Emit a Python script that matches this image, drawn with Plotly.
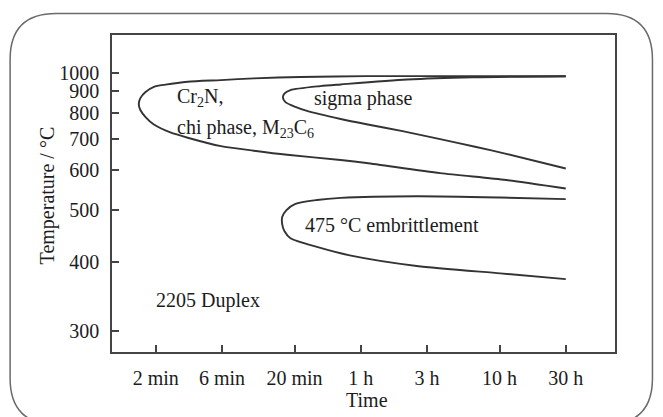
import numpy as np
import plotly.graph_objects as go

# Time axis ticks (minutes) and their labels
tick_minutes = [2, 6, 20, 60, 180, 600, 1800]
tick_labels = ["2 min", "6 min", "20 min", "1 h", "3 h", "10 h", "30 h"]

# Temperature axis ticks (°C)
temp_ticks = [300, 400, 500, 600, 700, 800, 900, 1000]

# Cr2N / chi phase / M23C6 precipitation curve: upper branch -> nose -> lower branch
carbide_time = [1800, 345, 66, 22, 10.2, 5.9, 3.4, 2.35, 1.94, 1.69, 1.55, 1.51,
                1.55, 1.69, 1.94, 2.55, 3.4, 5.9, 10.2, 17.7, 43, 66, 224, 670, 1800]
carbide_temp = [983, 983, 984, 979, 971, 961, 952, 936, 924, 897, 867, 839,
                812, 782, 752, 722, 703, 674, 659, 646, 630, 621, 592, 573, 551]

# Sigma phase curve
sigma_time = [1800, 387, 129, 43, 30.7, 18.7, 16.9, 16.5, 17.2, 20.3, 24.6, 43, 66,
              120, 224, 400, 670, 1800]
sigma_temp = [983, 977, 964, 937, 928, 907, 889, 869, 848, 826, 808, 774, 753,
              727, 698, 672, 649, 605]

# 475 °C embrittlement curve
embr_time = [1800, 607, 152, 43, 29, 20.3, 17.5, 16.3, 16.3, 16.9, 18.7, 29, 50, 152, 607, 1800]
embr_temp = [525, 529, 532, 528, 523, 514, 500, 485, 470, 456, 442, 426, 411, 393, 381, 372]

# Temperature axis limits (°C)
temp_low, temp_high = 276, 1283


def inv_t(temp_c):
    """Reciprocal absolute temperature, 1e4 / K."""
    return 1e4 / (np.asarray(temp_c, dtype=float) + 273.15)


W, H = 663, 417
L, R, T, B = 111.5, 48, 35, 65.3
PW, PH = W - L - R, H - T - B


def px(x):
    return (x - L) / PW


def py(y):
    return (H - B - y) / PH


FONT = "Liberation Serif"
FSIZE = 20
INK = "#1c1c1c"
LINE = "#333333"

fig = go.Figure()
for tx, ty in [(carbide_time, carbide_temp), (sigma_time, sigma_temp), (embr_time, embr_temp)]:
    fig.add_trace(go.Scatter(
        x=tx, y=inv_t(ty), mode="lines",
        line=dict(color=LINE, width=1.9, shape="spline", smoothing=0.7),
        showlegend=False, hoverinfo="skip",
    ))

axis_style = dict(
    showline=True, linecolor="#444444", linewidth=1.7, mirror=True,
    ticks="inside", ticklen=7, tickwidth=1.7, tickcolor="#444444",
    showgrid=False, zeroline=False,
    tickfont=dict(family=FONT, size=FSIZE, color=INK),
)

fig.update_xaxes(type="log", range=[-0.014, 3.61],
                 tickvals=tick_minutes, ticktext=tick_labels,
                 ticklabelstandoff=7, **axis_style)
fig.update_yaxes(range=[float(inv_t(temp_low)), float(inv_t(temp_high))],
                 tickvals=inv_t(temp_ticks).tolist(),
                 ticktext=[str(v) for v in temp_ticks],
                 ticklabelstandoff=7, **axis_style)

# Region labels
labels = [
    ("Cr<sub>2</sub>N,", 175, 97.5),
    ("chi phase, M<sub>23</sub>C<sub>6</sub>", 175, 128.5),
    ("sigma phase", 311.5, 98),
    ("475 °C embrittlement", 302.5, 225),
    ("2205 Duplex", 153.3, 300),
]
annotations = []
for text, x, y in labels:
    annotations.append(dict(
        text=text, x=px(x), y=py(y), xref="paper", yref="paper",
        xanchor="left", yanchor="middle", showarrow=False,
        font=dict(family=FONT, size=FSIZE, color=INK),
    ))

# Axis titles
annotations.append(dict(text="Time", x=px(366.7), y=py(400), xref="paper", yref="paper",
                        xanchor="center", yanchor="middle", showarrow=False,
                        font=dict(family=FONT, size=FSIZE, color=INK)))
annotations.append(dict(text="Temperature / °C", x=px(46.7), y=py(195), xref="paper", yref="paper",
                        xanchor="center", yanchor="middle", showarrow=False, textangle=-90,
                        font=dict(family=FONT, size=FSIZE, color=INK)))

# Rounded outer frame
x0, x1, y0, y1, r = 9.5, 652.5, 13.5, 424, 46


def pt(x, y):
    return f"{px(x):.5f},{py(y):.5f}"


frame = (f"M {pt(x0 + r, y0)} L {pt(x1 - r, y0)} Q {pt(x1, y0)} {pt(x1, y0 + r)} "
         f"L {pt(x1, y1 - r)} Q {pt(x1, y1)} {pt(x1 - r, y1)} "
         f"L {pt(x0 + r, y1)} Q {pt(x0, y1)} {pt(x0, y1 - r)} "
         f"L {pt(x0, y0 + r)} Q {pt(x0, y0)} {pt(x0 + r, y0)} Z")

fig.update_layout(
    width=W, height=H,
    margin=dict(l=L, r=R, t=T, b=B, pad=0),
    paper_bgcolor="white", plot_bgcolor="white",
    annotations=annotations,
    shapes=[dict(type="path", path=frame, xref="paper", yref="paper",
                 line=dict(color="#6a6a6a", width=1.5), layer="below")],
)

fig.write_html("out.html")
